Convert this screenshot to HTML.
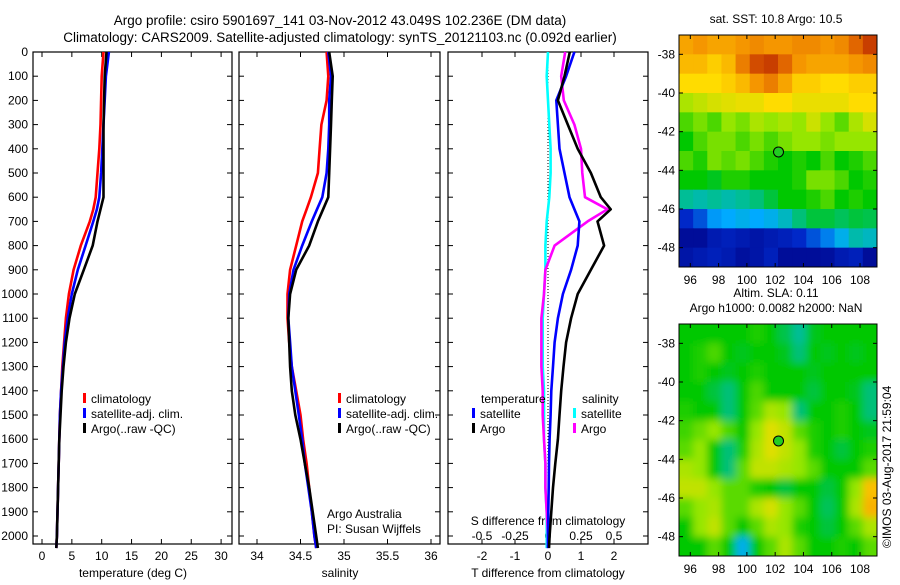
<!DOCTYPE html>
<html><head><meta charset="utf-8"><style>
body{margin:0;background:#fff;}
svg text{font-family:"Liberation Sans",sans-serif;fill:#000;}
</style></head><body>
<svg id="fig" width="900" height="580" viewBox="0 0 900 580" xmlns="http://www.w3.org/2000/svg">
<defs>
<clipPath id="clipTop"><rect x="679" y="35" width="198" height="232"/></clipPath>
<clipPath id="clipBot"><rect x="679" y="324" width="198" height="232"/></clipPath>
<filter id="blur" x="-5%" y="-5%" width="110%" height="110%"><feGaussianBlur stdDeviation="4"/></filter>
</defs>
<text x="340" y="25" text-anchor="middle" font-size="13.5">Argo profile: csiro 5901697_141 03-Nov-2012 43.049S 102.236E (DM data)</text>
<text x="340" y="42" text-anchor="middle" font-size="13.5">Climatology: CARS2009. Satellite-adjusted climatology: synTS_20121103.nc (0.092d earlier)</text>
<g id="panels"></g>
<g id="maps"></g>
<text transform="translate(891,548) rotate(-90)" font-size="12">©IMOS 03-Aug-2017 21:59:04</text>
</svg>
<script>
// ---- data ----
const depths = [0,100,200,300,400,500,600,650,700,800,900,1000,1100,1200,1300,1400,1500,1600,1700,1800,1900,2000,2050];
const tempClim = [10.3,10.0,9.9,9.8,9.6,9.3,9.0,8.6,8.0,6.5,5.3,4.5,4.0,3.7,3.4,3.2,3.0,2.9,2.8,2.7,2.6,2.5,2.4];
const tempSat  = [11.2,10.7,10.5,10.3,10.1,9.9,9.6,9.2,8.6,7.3,6.0,5.0,4.3,3.8,3.5,3.2,3.0,2.9,2.8,2.7,2.6,2.5,2.4];
const tempArgo = [10.8,10.5,10.4,10.3,10.3,10.3,10.3,9.8,9.3,8.5,7.0,5.5,4.6,4.0,3.6,3.3,3.1,2.9,2.8,2.7,2.6,2.5,2.4];
const salClim = [34.8,34.82,34.8,34.74,34.72,34.7,34.62,34.57,34.52,34.45,34.38,34.35,34.35,34.37,34.4,34.45,34.5,34.53,34.57,34.6,34.63,34.66,34.68];
const salSat  = [34.82,34.85,34.83,34.83,34.82,34.8,34.75,34.69,34.63,34.52,34.42,34.37,34.36,34.38,34.4,34.44,34.48,34.52,34.55,34.59,34.63,34.66,34.68];
const salArgo = [34.83,34.87,34.86,34.85,34.84,34.83,34.82,34.76,34.7,34.6,34.45,34.38,34.36,34.37,34.38,34.4,34.44,34.5,34.55,34.6,34.64,34.68,34.7];
const dTsat  = [0.8,0.55,0.25,0.3,0.35,0.5,0.65,0.8,0.95,0.9,0.7,0.45,0.3,0.2,0.15,0.1,0.08,0.05,0.03,0.02,0.01,0,0];
const dTargo = [0.66,0.5,0.3,0.6,0.9,1.3,1.6,1.9,1.5,1.7,1.3,0.9,0.7,0.55,0.47,0.4,0.35,0.3,0.22,0.15,0.1,0.05,0.03];
const dSsat  = [0.0,-0.01,0.0,0.01,0.02,0.02,0.01,0.0,-0.01,-0.02,-0.02,-0.03,-0.04,-0.04,-0.04,-0.03,-0.03,-0.03,-0.02,-0.02,-0.01,-0.01,-0.01];
const dSargo = [0.13,0.1,0.12,0.2,0.25,0.26,0.28,0.45,0.3,0.05,-0.02,-0.03,-0.05,-0.05,-0.05,-0.04,-0.04,-0.03,-0.02,-0.02,-0.01,0,0];
const depthTicks = [0,100,200,300,400,500,600,700,800,900,1000,1100,1200,1300,1400,1500,1600,1700,1800,1900,2000];
const tempTicks = [0,5,10,15,20,25,30];
const salTicks = ["34","34.5","35","35.5","36"];
const dTTicks = [-2,-1,0,1,2];
const dSTicks = ["-0.5","-0.25","0","0.25","0.5"];
const lonTicks = [96,98,100,102,104,106,108];
const latTicks = [-38,-40,-42,-44,-46,-48];
const sstGrid = [
[0.78,0.8,0.78,0.78,0.8,0.82,0.8,0.8,0.82,0.82,0.8,0.82,0.88,0.94],
[0.75,0.75,0.72,0.75,0.84,0.92,0.94,0.88,0.8,0.78,0.78,0.78,0.8,0.82],
[0.7,0.7,0.7,0.72,0.75,0.8,0.84,0.78,0.72,0.72,0.7,0.7,0.72,0.72],
[0.62,0.64,0.66,0.67,0.68,0.68,0.7,0.7,0.68,0.68,0.68,0.68,0.7,0.7],
[0.55,0.58,0.55,0.6,0.58,0.62,0.6,0.62,0.6,0.65,0.6,0.56,0.62,0.66],
[0.5,0.55,0.58,0.58,0.55,0.58,0.55,0.58,0.6,0.6,0.58,0.6,0.6,0.6],
[0.55,0.52,0.58,0.56,0.58,0.55,0.52,0.5,0.52,0.5,0.55,0.5,0.52,0.55],
[0.5,0.5,0.48,0.52,0.52,0.5,0.5,0.5,0.52,0.58,0.58,0.55,0.5,0.52],
[0.4,0.38,0.4,0.38,0.4,0.42,0.46,0.5,0.5,0.52,0.55,0.5,0.52,0.5],
[0.15,0.2,0.28,0.3,0.32,0.3,0.32,0.36,0.42,0.46,0.46,0.44,0.46,0.45],
[0.05,0.05,0.1,0.12,0.1,0.08,0.1,0.12,0.15,0.2,0.25,0.32,0.38,0.36],
[0.08,0.1,0.12,0.1,0.06,0.08,0.12,0.05,0.05,0.05,0.06,0.1,0.12,0.05]];
const slaGrid = [
[0.5,0.5,0.5,0.5,0.5,0.52,0.5,0.45,0.4,0.48,0.5,0.5,0.5,0.5],
[0.5,0.52,0.55,0.5,0.48,0.5,0.5,0.48,0.42,0.5,0.48,0.5,0.48,0.5],
[0.5,0.52,0.5,0.48,0.5,0.52,0.5,0.5,0.5,0.48,0.5,0.5,0.5,0.5],
[0.5,0.5,0.46,0.42,0.5,0.55,0.5,0.5,0.5,0.46,0.5,0.5,0.48,0.42],
[0.52,0.5,0.5,0.42,0.5,0.56,0.62,0.6,0.42,0.5,0.5,0.52,0.5,0.42],
[0.54,0.57,0.6,0.55,0.5,0.6,0.67,0.64,0.56,0.52,0.5,0.52,0.5,0.48],
[0.56,0.6,0.5,0.42,0.52,0.62,0.67,0.64,0.6,0.52,0.5,0.46,0.5,0.52],
[0.62,0.6,0.5,0.42,0.56,0.64,0.64,0.62,0.6,0.56,0.5,0.5,0.5,0.56],
[0.64,0.64,0.6,0.56,0.56,0.52,0.5,0.46,0.5,0.5,0.46,0.5,0.6,0.74],
[0.56,0.6,0.62,0.56,0.56,0.62,0.66,0.6,0.56,0.5,0.44,0.5,0.62,0.76],
[0.5,0.6,0.64,0.56,0.5,0.56,0.62,0.6,0.52,0.5,0.46,0.5,0.56,0.62],
[0.5,0.5,0.56,0.5,0.32,0.5,0.56,0.62,0.56,0.5,0.5,0.52,0.5,0.56]];
const argoLon = 102.236, argoLat = -43.049;

// ---- helpers ----
const NS="http://www.w3.org/2000/svg";
function mk(tag, attrs, parent, txt){const e=document.createElementNS(NS,tag);for(const k in attrs)e.setAttribute(k,attrs[k]);if(txt!==undefined)e.textContent=txt;parent.appendChild(e);return e;}
const yD = d => 52 + d*0.242;
const panels = document.getElementById('panels');
const PY0=52, PY1=544;
function frame(x0,x1,name){
  const r=mk('rect',{x:x0,y:PY0,width:x1-x0,height:PY1-PY0,fill:'none',stroke:'#000','stroke-width':1.2},panels);
  
  
  depthTicks.forEach(d=>{mk('line',{x1:x0,x2:x0+5,y1:yD(d),y2:yD(d),stroke:'#000'},panels);mk('line',{x1:x1,x2:x1-5,y1:yD(d),y2:yD(d),stroke:'#000'},panels);});
}
function line(xf, vals, color, name){
  const pts = depths.map((d,i)=>xf(vals[i]).toFixed(1)+','+yD(d).toFixed(1)).join(' ');
  const p=mk('polyline',{points:pts,fill:'none',stroke:color,'stroke-width':2.6,'stroke-linejoin':'round'},panels);
  
  
}
function legendEntry(x,y,color,label,name){
  const g=mk('g',{},panels);
  
  
  mk('rect',{x:x,y:y-10,width:3,height:10,fill:color},g);
  mk('text',{x:x+8,y:y,'font-size':12},g,label);
}
depthTicks.forEach(d=>{const t=mk('text',{x:28,y:yD(d)+4,'text-anchor':'end','font-size':12},panels,String(d));
  
  });

// panel 1 temperature
const xT = v => 42 + v*5.97;
frame(33,232,'temperature-panel');
tempTicks.forEach(v=>{mk('line',{x1:xT(v),x2:xT(v),y1:PY0,y2:PY0+5,stroke:'#000'},panels);mk('line',{x1:xT(v),x2:xT(v),y1:PY1,y2:PY1-5,stroke:'#000'},panels);
  const t=mk('text',{x:xT(v),y:560,'text-anchor':'middle','font-size':12},panels,String(v));
  
  });
mk('text',{x:133,y:577,'text-anchor':'middle','font-size':12,},panels,'temperature (deg C)');
line(xT,tempClim,'#f00','temp-climatology-line');
line(xT,tempSat,'#00f','temp-satellite-line');
line(xT,tempArgo,'#000','temp-argo-line');
legendEntry(83,403,'#f00','climatology','temp-legend-climatology');
legendEntry(83,418,'#00f','satellite-adj. clim.','temp-legend-satellite');
legendEntry(83,433,'#000','Argo(..raw -QC)','temp-legend-argo');

// panel 2 salinity
const xS = v => 257 + (v-34)*87;
frame(239,440,'salinity-panel');
salTicks.forEach(s=>{const v=parseFloat(s);mk('line',{x1:xS(v),x2:xS(v),y1:PY0,y2:PY0+5,stroke:'#000'},panels);mk('line',{x1:xS(v),x2:xS(v),y1:PY1,y2:PY1-5,stroke:'#000'},panels);
  const t=mk('text',{x:xS(v),y:560,'text-anchor':'middle','font-size':12},panels,s);
  
  });
mk('text',{x:340,y:577,'text-anchor':'middle','font-size':12,},panels,'salinity');
line(xS,salClim,'#f00','sal-climatology-line');
line(xS,salSat,'#00f','sal-satellite-line');
line(xS,salArgo,'#000','sal-argo-line');
legendEntry(338,403,'#f00','climatology','sal-legend-climatology');
legendEntry(338,418,'#00f','satellite-adj. clim.','sal-legend-satellite');
legendEntry(338,433,'#000','Argo(..raw -QC)','sal-legend-argo');
mk('text',{x:327,y:518,'font-size':12,},panels,'Argo Australia');
mk('text',{x:327,y:533,'font-size':12,},panels,'PI: Susan Wijffels');

// panel 3 differences
const xdT = v => 548 + v*33;
const xdS = v => 548 + v*132;
frame(448,648,'difference-panel');
mk('line',{x1:548,x2:548,y1:PY0,y2:PY1,stroke:'#000','stroke-dasharray':'1,2',},panels);
dTTicks.forEach(v=>{mk('line',{x1:xdT(v),x2:xdT(v),y1:PY1,y2:PY1-5,stroke:'#000'},panels);mk('line',{x1:xdT(v),x2:xdT(v),y1:PY0,y2:PY0+5,stroke:'#000'},panels);
  const t=mk('text',{x:xdT(v),y:560,'text-anchor':'middle','font-size':12},panels,String(v));
  
  });
dSTicks.forEach(s=>{const t=mk('text',{x:xdS(parseFloat(s)),y:540,'text-anchor':'middle','font-size':12},panels,s);
  
  });
mk('text',{x:548,y:525,'text-anchor':'middle','font-size':12,},panels,'S difference from climatology');
mk('text',{x:548,y:577,'text-anchor':'middle','font-size':12,},panels,'T difference from climatology');
line(xdS,dSsat,'#0ff','s-diff-satellite-line');
line(xdS,dSargo,'#f0f','s-diff-argo-line');
line(xdT,dTsat,'#00f','t-diff-satellite-line');
line(xdT,dTargo,'#000','t-diff-argo-line');
mk('text',{x:481,y:403,'font-size':12,},panels,'temperature');
legendEntry(472,418,'#00f','satellite','diff-legend-t-satellite');
legendEntry(472,433,'#000','Argo','diff-legend-t-argo');
mk('text',{x:582,y:403,'font-size':12,},panels,'salinity');
legendEntry(573,418,'#0ff','satellite','diff-legend-s-satellite');
legendEntry(573,433,'#f0f','Argo','diff-legend-s-argo');

// ---- maps ----
const maps=document.getElementById('maps');
const cmapStops=[[0,0,0,130],[0.15,0,40,200],[0.3,0,170,255],[0.4,0,190,150],[0.5,0,200,0],[0.6,150,230,0],[0.7,255,220,0],[0.8,245,150,0],[0.9,220,90,0],[1,170,20,0]];
function cmap(v){
  v=Math.max(0,Math.min(1,v));
  for(let i=1;i<cmapStops.length;i++){
    const a=cmapStops[i-1],b=cmapStops[i];
    if(v<=b[0]){const t=(v-a[0])/(b[0]-a[0]);
      return `rgb(${Math.round(a[1]+t*(b[1]-a[1]))},${Math.round(a[2]+t*(b[2]-a[2]))},${Math.round(a[3]+t*(b[3]-a[3]))})`;}
  }
  return 'rgb(170,20,0)';
}
function drawMap(y0,grid,clip,blur,title1,title2,name){
  const X0=679,W=198,H=232,lon0=95.2,lon1=109.2,lat0=-37,lat1=-49;
  const xL = lon => X0 + (lon-lon0)/(lon1-lon0)*W;
  const yL = lat => y0 + (lat-lat0)/(lat1-lat0)*H;
  const g=mk('g',{'clip-path':`url(#${clip})`},maps);
  
  
  const inner=mk('g',blur?{filter:'url(#blur)'}:{},g);
  grid.forEach((row,i)=>row.forEach((v,j)=>{
    const lonA=lon0+j, latA=lat0-i;
    const pad=blur?10:0;
    const x=xL(lonA)-(j===0?pad:0), y=yL(latA)-(i===0?pad:0);
    const w=xL(lonA+1)-xL(lonA)+0.6+(j===0||j===row.length-1?pad:0), h=yL(latA-1)-yL(latA)+0.6+(i===0||i===grid.length-1?pad:0);
    const c=mk('rect',{x:x,y:y,width:w,height:h,fill:cmap(v)},inner);
    
    
  }));
  mk('rect',{x:X0,y:y0,width:W,height:H,fill:'none',stroke:'#000'},maps);
  lonTicks.forEach(l=>{mk('line',{x1:xL(l),x2:xL(l),y1:y0,y2:y0+4,stroke:'#000'},maps);mk('line',{x1:xL(l),x2:xL(l),y1:y0+H,y2:y0+H-4,stroke:'#000'},maps);
    const t=mk('text',{x:xL(l),y:y0+H+17,'text-anchor':'middle','font-size':12},maps,String(l));
    
    });
  latTicks.forEach(l=>{mk('line',{x1:X0,x2:X0+4,y1:yL(l),y2:yL(l),stroke:'#000'},maps);mk('line',{x1:X0+W,x2:X0+W-4,y1:yL(l),y2:yL(l),stroke:'#000'},maps);
    const t=mk('text',{x:X0-4,y:yL(l)+4,'text-anchor':'end','font-size':12},maps,String(l));
    
    });
  const m=mk('circle',{cx:xL(argoLon),cy:yL(argoLat),r:5,fill:'#2c2',stroke:'#000','stroke-width':1},maps);
  
  
  if(title1){const t=mk('text',{x:776,y:y0-12,'text-anchor':'middle','font-size':12},maps,title1);}
  if(title2){const t=mk('text',{x:776,y:y0-27,'text-anchor':'middle','font-size':12},maps,title2);}
}
drawMap(35,sstGrid,'clipTop',false,'sat. SST: 10.8 Argo: 10.5',null,'sst-map');
drawMap(324,slaGrid,'clipBot',true,'Argo h1000: 0.0082 h2000: NaN','Altim. SLA: 0.11','sla-map');
</script>
</body></html>
